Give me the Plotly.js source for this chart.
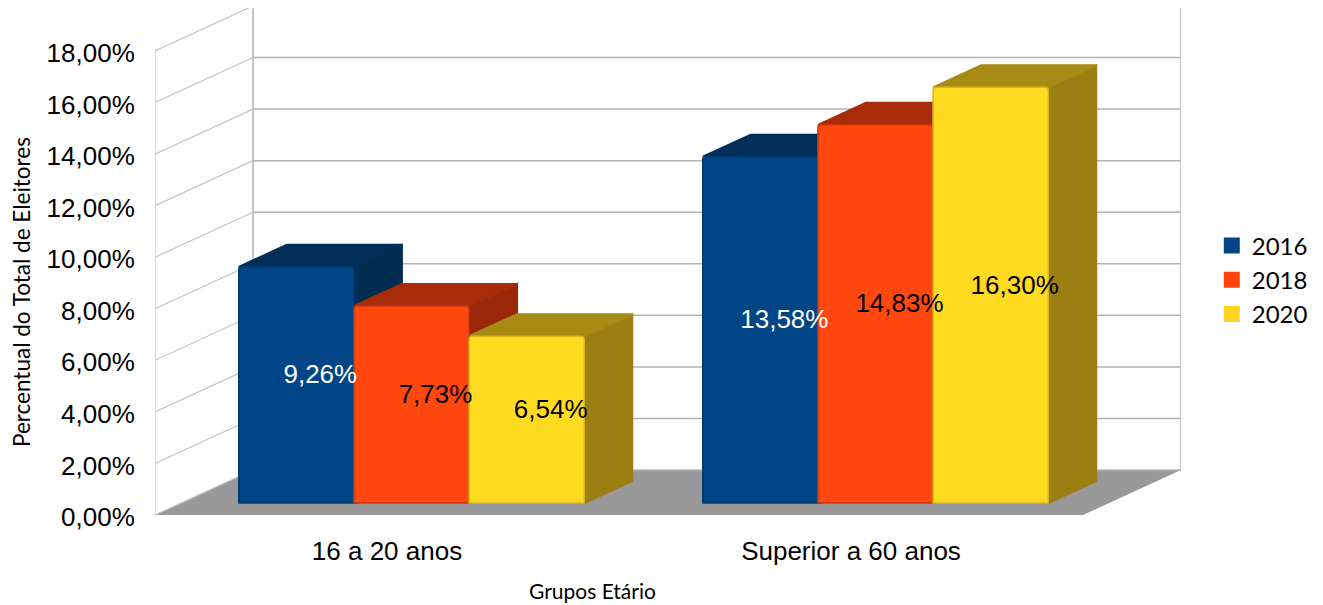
<!DOCTYPE html>
<html>
<head>
<meta charset="utf-8">
<script src="https://cdn.plot.ly/plotly-3.0.1.min.js"></script>
<style>html,body{margin:0;padding:0;background:#fff}#chart{width:1323px;height:605px}</style>
</head>
<body>
<div id="chart"></div>
<script>
const categories = ["16 a 20 anos", "Superior a 60 anos"];
const seriesNames = ["2016", "2018", "2020"];
const values2016 = [9.26, 13.58];
const values2018 = [7.73, 14.83];
const values2020 = [6.54, 16.30];
const labels2016 = ["9,26%", "13,58%"];
const labels2018 = ["7,73%", "14,83%"];
const labels2020 = ["6,54%", "16,30%"];
const yTickVals = [0, 2, 4, 6, 8, 10, 12, 14, 16, 18];
const yTickLabels = ["0,00%", "2,00%", "4,00%", "6,00%", "8,00%", "10,00%", "12,00%", "14,00%", "16,00%", "18,00%"];
const frontColors = ["#004586", "#ff470f", "#fedb20"];
const edgeColors = ["#003a70", "#c9360c", "#d9b51c"];
const topColors = ["#002e58", "#a82c09", "#a88b15"];
const sideColors = ["#012c52", "#9a2808", "#9b7f13"];
const legendColors = ["#004586", "#ff420e", "#ffd320"];
const labelColors = ["#ffffff", "#000000", "#000000"];

// Scales of the oblique projection (pixels per axis unit)
const W = 1323, H = 605;
const plotL = 155, plotR = 1181, plotT = 8, plotB = 515;
const pxPerCat = 464, pxPerPct = 25.78, pxPerPctBar = 25.5;
const wallDx = 98 / pxPerCat, wallDy = 45 / pxPerPct;
const barDx = 48 / pxPerCat, barDy = 22 / pxPerPctBar;
const xMin = -0.5, xMax = -0.5 + (plotR - plotL) / pxPerCat;
const yMax = (plotB - plotT) / pxPerPct;
const y2Min = -12 / pxPerPctBar, y2Max = (503 - plotT) / pxPerPctBar;
const groupWidth = 345.5 / pxPerCat, groupShift = 24.5 / pxPerCat;
const barW = groupWidth / 3;
const labelDrop = 3 / pxPerPctBar;

const allSeries = [values2016, values2018, values2020];
const allLabels = [labels2016, labels2018, labels2020];
const traces = [];
const skip = {hoverinfo: "skip", showlegend: false};

// floor
traces.push(Object.assign({
  type: "scatter", mode: "lines", fill: "toself", fillcolor: "#999999",
  x: [xMin, xMin + wallDx, xMax, xMax - wallDx, xMin],
  y: [0, wallDy, wallDy, 0, 0],
  line: {width: 0}, xaxis: "x", yaxis: "y", cliponaxis: false
}, skip));

// left wall and back wall lines
const leftX = [], leftY = [], backX = [], backY = [];
yTickVals.forEach(v => {
  leftX.push(xMin, xMin + wallDx, null);
  leftY.push(v, v + wallDy, null);
  backX.push(xMin + wallDx, xMax, null);
  backY.push(v + wallDy, v + wallDy, null);
});
const topTick = yTickVals[yTickVals.length - 1];
leftX.push(xMin, xMin, null);
leftY.push(0, topTick, null);
backX.push(xMin + wallDx, xMin + wallDx, null, xMax, xMax, null);
backY.push(wallDy, topTick + wallDy, null, wallDy, topTick + wallDy, null);
traces.push(Object.assign({type: "scatter", mode: "lines", x: leftX, y: leftY,
  line: {color: "#c4c4c4", width: 1.2}, xaxis: "x", yaxis: "y", cliponaxis: false}, skip));
traces.push(Object.assign({type: "scatter", mode: "lines", x: backX, y: backY,
  line: {color: "#b3b3b3", width: 1.5}, xaxis: "x", yaxis: "y", cliponaxis: false}, skip));

// side and top faces, in painter's order
categories.forEach((c, ci) => {
  allSeries.forEach((vals, si) => {
    const x0 = ci + groupShift - groupWidth / 2 + si * barW;
    const x1 = x0 + barW;
    const v = vals[ci];
    traces.push(Object.assign({
      type: "scatter", mode: "lines", fill: "toself", fillcolor: sideColors[si],
      x: [x1, x1, x1 + barDx, x1 + barDx, x1],
      y: [0, v, v + barDy, barDy, 0],
      line: {color: sideColors[si], width: 2}, xaxis: "x", yaxis: "y2", cliponaxis: false
    }, skip));
    traces.push(Object.assign({
      type: "scatter", mode: "lines", fill: "toself", fillcolor: topColors[si],
      x: [x0, x0 + barDx, x1 + barDx, x1, x0],
      y: [v, v + barDy, v + barDy, v, v],
      line: {color: topColors[si], width: 2}, xaxis: "x", yaxis: "y2", cliponaxis: false
    }, skip));
  });
});

// front faces
allSeries.forEach((vals, si) => {
  traces.push({
    type: "bar", name: seriesNames[si], x: categories.map((c, i) => i + groupShift), y: vals,
    marker: {color: frontColors[si], line: {color: edgeColors[si], width: 1.5}},
    xaxis: "x", yaxis: "y3", hoverinfo: "skip", cliponaxis: false, showlegend: false
  });
});

// data labels, centred on each box
allSeries.forEach((vals, si) => {
  traces.push(Object.assign({
    type: "scatter", mode: "text",
    x: categories.map((c, i) => i + groupShift - groupWidth / 2 + (si + 0.5) * barW + barDx / 2),
    y: vals.map(v => v / 2 + barDy / 2 - labelDrop),
    text: allLabels[si], textposition: "middle center",
    textfont: {family: "Liberation Sans", size: 26, color: labelColors[si]},
    xaxis: "x", yaxis: "y3", cliponaxis: false
  }, skip));
});

// legend keys
seriesNames.forEach((name, si) => {
  traces.push({
    type: "scatter", mode: "markers", name: name, x: [null], y: [null],
    marker: {symbol: "square", size: 16, color: legendColors[si]},
    xaxis: "x", yaxis: "y3", hoverinfo: "skip", showlegend: true
  });
});

const layout = {
  width: W, height: H, paper_bgcolor: "#ffffff", plot_bgcolor: "rgba(0,0,0,0)",
  margin: {l: plotL, r: W - plotR, t: plotT, b: H - plotB, pad: 0, autoexpand: false},
  barmode: "group", bargap: 1 - groupWidth, bargroupgap: 0, barcornerradius: 3,
  font: {family: "Liberation Sans", color: "#000000"},
  xaxis: {range: [xMin, xMax], tickmode: "array", tickvals: [0, 1], ticktext: categories,
    showgrid: false, zeroline: false, showline: false, ticks: "outside", ticklen: 13, tickcolor: "rgba(0,0,0,0)",
    tickfont: {family: "Liberation Sans", size: 26, color: "#000000"}, fixedrange: true},
  yaxis: {range: [0, yMax], tickmode: "array", tickvals: yTickVals, ticktext: yTickLabels,
    showgrid: false, zeroline: false, showline: false, ticks: "outside", ticklen: 14, tickcolor: "rgba(0,0,0,0)",
    ticklabelshift: 2,
    tickfont: {family: "Liberation Sans", size: 26, color: "#000000"}, fixedrange: true},
  yaxis2: {overlaying: "y", range: [y2Min, y2Max], visible: false, fixedrange: true},
  yaxis3: {overlaying: "y", range: [y2Min, y2Max], visible: false, fixedrange: true},
  legend: {x: 1.03, xanchor: "left", y: 0.4635, yanchor: "middle", traceorder: "normal",
    font: {family: "Lato", size: 24, color: "#000000"}, bgcolor: "rgba(0,0,0,0)", itemwidth: 30},
  annotations: [
    {text: "Grupos Etário", xref: "paper", yref: "paper", x: (592 - plotL) / (plotR - plotL), y: (plotB - 590) / (plotB - plotT),
      xanchor: "center", yanchor: "middle", borderpad: 0, showarrow: false, font: {family: "Lato", size: 21, color: "#000000"}},
    {text: "Percentual do Total de Eleitores", xref: "paper", yref: "paper", x: (21 - plotL) / (plotR - plotL), y: (plotB - 292) / (plotB - plotT),
      xanchor: "center", yanchor: "middle", textangle: -90, showarrow: false, font: {family: "Lato", size: 22.5, color: "#000000"}}
  ],
  showlegend: true
};
Plotly.newPlot("chart", traces, layout, {displayModeBar: false, staticPlot: true});
</script>
</body>
</html>
